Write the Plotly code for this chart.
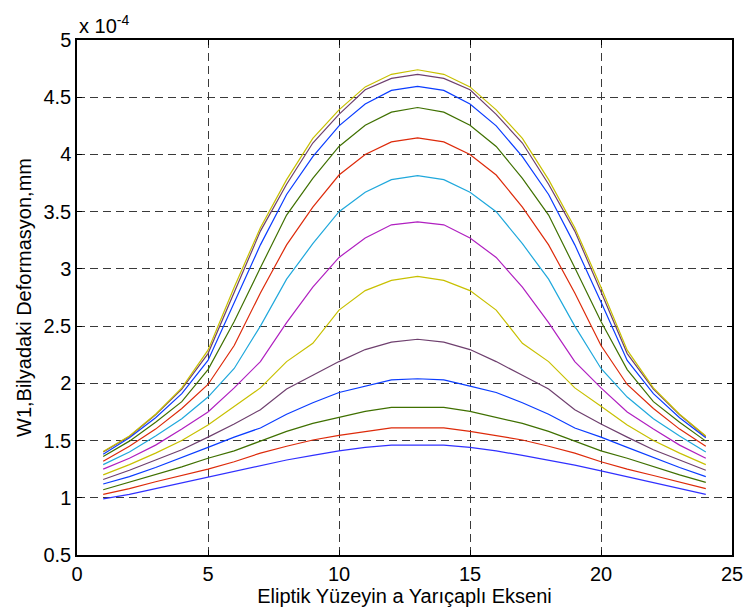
import plotly.graph_objects as go

# Position along the elliptic contact's semi-major axis (sample index)
x_pts = list(range(1, 25))

# Ball deformation W1, in units of 1e-4 mm, one list per load case (lowest to highest)
w1_c01 = [0.99, 1.03, 1.08, 1.13, 1.185, 1.235, 1.285, 1.33, 1.37, 1.41, 1.44, 1.46, 1.46, 1.46, 1.44, 1.41, 1.37, 1.33, 1.285, 1.235, 1.185, 1.13, 1.08, 1.03]
w1_c02 = [1.03, 1.08, 1.14, 1.195, 1.25, 1.315, 1.39, 1.45, 1.505, 1.545, 1.58, 1.61, 1.61, 1.61, 1.58, 1.545, 1.505, 1.45, 1.39, 1.315, 1.25, 1.195, 1.14, 1.08]
w1_c03 = [1.07, 1.135, 1.20, 1.27, 1.345, 1.41, 1.495, 1.58, 1.65, 1.70, 1.755, 1.79, 1.79, 1.79, 1.755, 1.70, 1.65, 1.58, 1.495, 1.41, 1.345, 1.27, 1.20, 1.135]
w1_c04 = [1.12, 1.185, 1.265, 1.35, 1.44, 1.53, 1.61, 1.73, 1.83, 1.92, 1.975, 2.03, 2.04, 2.03, 1.975, 1.92, 1.83, 1.73, 1.61, 1.53, 1.44, 1.35, 1.265, 1.185]
w1_c05 = [1.16, 1.24, 1.33, 1.42, 1.53, 1.645, 1.77, 1.95, 2.07, 2.19, 2.295, 2.36, 2.385, 2.36, 2.295, 2.19, 2.07, 1.95, 1.77, 1.645, 1.53, 1.42, 1.33, 1.24]
w1_c06 = [1.20, 1.29, 1.39, 1.50, 1.635, 1.80, 1.96, 2.19, 2.35, 2.64, 2.81, 2.90, 2.935, 2.90, 2.81, 2.64, 2.35, 2.19, 1.96, 1.80, 1.635, 1.50, 1.39, 1.29]
w1_c07 = [1.25, 1.345, 1.46, 1.60, 1.75, 1.96, 2.19, 2.53, 2.84, 3.10, 3.27, 3.385, 3.41, 3.385, 3.27, 3.10, 2.84, 2.53, 2.19, 1.96, 1.75, 1.60, 1.46, 1.345]
w1_c08 = [1.29, 1.40, 1.54, 1.69, 1.88, 2.13, 2.50, 2.91, 3.22, 3.50, 3.67, 3.78, 3.815, 3.78, 3.67, 3.50, 3.22, 2.91, 2.50, 2.13, 1.88, 1.69, 1.54, 1.40]
w1_c09 = [1.32, 1.45, 1.60, 1.78, 1.99, 2.33, 2.79, 3.21, 3.54, 3.82, 4.00, 4.11, 4.145, 4.11, 4.00, 3.82, 3.54, 3.21, 2.79, 2.33, 1.99, 1.78, 1.60, 1.45]
w1_c10 = [1.36, 1.495, 1.66, 1.84, 2.12, 2.54, 3.01, 3.47, 3.79, 4.07, 4.255, 4.37, 4.41, 4.37, 4.255, 4.07, 3.79, 3.47, 3.01, 2.54, 2.12, 1.84, 1.66, 1.495]
w1_c11 = [1.38, 1.525, 1.70, 1.91, 2.20, 2.71, 3.21, 3.65, 3.98, 4.25, 4.44, 4.56, 4.595, 4.56, 4.44, 4.25, 3.98, 3.65, 3.21, 2.71, 2.20, 1.91, 1.70, 1.525]
w1_c12 = [1.40, 1.535, 1.725, 1.95, 2.26, 2.80, 3.33, 3.74, 4.10, 4.35, 4.565, 4.665, 4.70, 4.665, 4.565, 4.35, 4.10, 3.74, 3.33, 2.80, 2.26, 1.95, 1.725, 1.535]
w1_c13 = [1.405, 1.54, 1.73, 1.96, 2.29, 2.84, 3.36, 3.78, 4.14, 4.39, 4.59, 4.70, 4.74, 4.70, 4.59, 4.39, 4.14, 3.78, 3.36, 2.84, 2.29, 1.96, 1.73, 1.54]

series = [w1_c01, w1_c02, w1_c03, w1_c04, w1_c05, w1_c06, w1_c07,
          w1_c08, w1_c09, w1_c10, w1_c11, w1_c12, w1_c13]

line_colors = ["#3030ff", "#dd2a0a", "#3f7000", "#0a3cff", "#6e3f6e", "#c8c000", "#b01fc0",
               "#1fa8dc", "#dd2a0a", "#3f7000", "#0a3cff", "#6e3f6e", "#c8c000"]

x_ticks = [0, 5, 10, 15, 20, 25]
y_ticks = [0.5, 1, 1.5, 2, 2.5, 3, 3.5, 4, 4.5, 5]
y_tick_text = ["0.5", "1", "1.5", "2", "2.5", "3", "3.5", "4", "4.5", "5"]

x_title = "Eliptik Yüzeyin a Yarıçaplı Ekseni"
y_title = "W1,Bilyadaki Deformasyon,mm"

FONT = "Liberation Sans, Arial, Helvetica, sans-serif"
FS = 20

fig = go.Figure()
for vals, col in zip(series, line_colors):
    fig.add_trace(go.Scatter(x=x_pts, y=vals, mode="lines",
                             line=dict(color=col, width=1.2), showlegend=False))

axis_common = dict(
    showline=True, linecolor="black", linewidth=1.5, mirror="ticks",
    ticks="inside", ticklen=5, tickcolor="black", tickwidth=1,
    showgrid=True, gridcolor="#3a3a3a", gridwidth=1, griddash="8px,5px",
    zeroline=False, automargin=False,
    tickfont=dict(family=FONT, size=FS, color="black"),
)

fig.update_xaxes(range=[0, 25], tickvals=x_ticks,
                 title=dict(text=x_title, font=dict(family=FONT, size=FS, color="black"), standoff=4),
                 **axis_common)
fig.update_yaxes(range=[0.5, 5], tickvals=y_ticks, ticktext=y_tick_text,
                 title=dict(text=y_title, font=dict(family=FONT, size=FS, color="black"), standoff=6),
                 **axis_common)

fig.add_annotation(text="x 10<sup>-4</sup>", xref="paper", yref="paper", x=0, y=1,
                   xanchor="left", yanchor="bottom", showarrow=False, yshift=1,
                   font=dict(family=FONT, size=FS, color="black"))

fig.update_layout(
    width=747, height=613,
    margin=dict(l=77, r=15, t=40, b=58, autoexpand=False),
    paper_bgcolor="white", plot_bgcolor="white",
    font=dict(family=FONT, size=FS, color="black"),
    showlegend=False,
)

fig.write_html("out.html")
